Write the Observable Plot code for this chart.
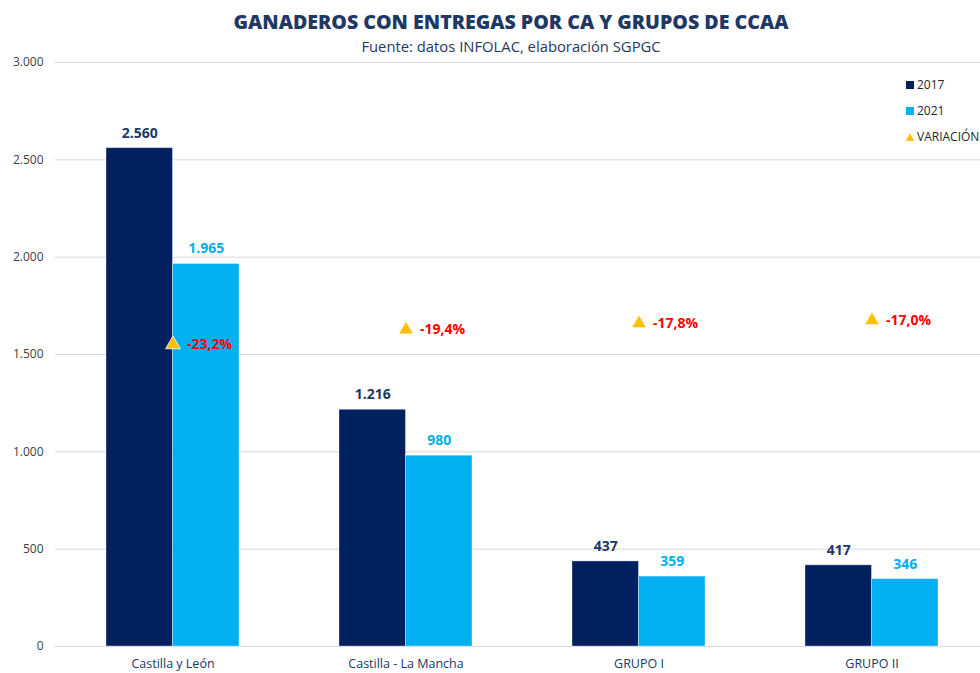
<!DOCTYPE html>
<html>
<head>
<meta charset="utf-8">
<script src="https://cdn.jsdelivr.net/npm/d3@7"></script>
<script src="https://cdn.jsdelivr.net/npm/@observablehq/plot@0.6"></script>
<style>
  html, body { margin: 0; padding: 0; background: #fff; overflow: hidden; }
  #wrap { position: relative; width: 980px; height: 673px; overflow: hidden; }
  #header { height: 56px; text-align: center; padding-left: 42px; box-sizing: border-box; }
  #title { font-family: "Open Sans", sans-serif; font-weight: 800; font-size: 19.6px; color: #1F3864; line-height: 24px; padding-top: 10px; }
  #subtitle { font-family: "Open Sans", sans-serif; font-size: 14.8px; color: #1F3864; line-height: 18px; margin-top: 3px; }
  #chart svg { max-width: none !important; display: block; }
  #legend { position: absolute; left: 906px; top: 76px; font-family: "Open Sans", sans-serif; font-size: 12px; color: #262626; white-space: nowrap; }
  .li { position: relative; height: 26px; }
  .sw { position: absolute; left: 0; top: 5px; width: 8px; height: 8px; }
  .tri { position: absolute; left: 0; top: 5px; width: 0; height: 0; border-left: 4px solid transparent; border-right: 4px solid transparent; border-bottom: 8px solid #FFC000; }
  .lt { position: absolute; left: 11px; top: 0; line-height: 17px; }
</style>
</head>
<body>
<div id="wrap">
  <div id="header">
    <div id="title">GANADEROS CON ENTREGAS POR CA Y GRUPOS DE CCAA</div>
    <div id="subtitle">Fuente: datos INFOLAC, elaboración SGPGC</div>
  </div>
  <div id="chart"></div>
  <div id="legend"></div>
</div>
<script>
// ---- data ----
const groups = ["Castilla y León", "Castilla - La Mancha", "GRUPO I", "GRUPO II"];
const v2017 = [2560, 1216, 437, 417];
const v2021 = [1965, 980, 359, 346];
const variacion = [-23.2, -19.4, -17.8, -17.0];   // %
const yTicks = [0, 500, 1000, 1500, 2000, 2500, 3000];
const seriesNames = ["2017", "2021", "VARIACIÓN"];

// ---- styles / layout ----
const C2017 = "#002060", C2021 = "#00B0F0", CTRI = "#FFC000", CRED = "#FF0000";
const W = 989, H = 617, mL = 55, mR = 0, mT = 6, mB = 27;
const padInner = 0.43, padOuter = 0.215;
const step = (W - mL - mR) / groups.length;
const bw = step * (1 - padInner);

// secondary (hidden) axis for the variation: -100% .. +50%  ->  0 .. 3000
const secondary = d3.scaleLinear().domain([-100, 50]).range([0, 3000]);

const rows = groups.map((g, i) => ({
  group: g, a: v2017[i], b: v2021[i], varPct: variacion[i], varY: secondary(variacion[i])
}));

const fmtNum = d => d3.format(",")(d).replace(/,/g, ".");
const fmtPct = d => d3.format(".1f")(d).replace("\u2212", "-").replace(".", ",") + "%";

const font = "'Open Sans', sans-serif";

const chart = Plot.plot({
  width: W, height: H,
  marginLeft: mL, marginRight: mR, marginTop: mT, marginBottom: mB,
  style: { fontFamily: font, background: "transparent", overflow: "visible", maxWidth: "none" },
  x: { domain: groups, paddingInner: padInner, paddingOuter: padOuter, axis: null },
  y: { domain: [0, 3000], axis: null },
  marks: [
    Plot.ruleY(yTicks, { stroke: "#D9D9D9", strokeWidth: 1 }),
    Plot.axisY(yTicks, { tickSize: 0, tickPadding: 12, tickFormat: fmtNum, fill: "#404040", fontSize: 12, label: null }),
    Plot.axisX({ tickSize: 0, tickPadding: 13, fill: "#203864", fontSize: 12.5, label: null }),
    Plot.barY(rows, { x: "group", y: "a", fill: C2017, insetRight: bw / 2, stroke: "#ffffff", strokeOpacity: 0.35, strokeWidth: 1 }),
    Plot.barY(rows, { x: "group", y: "b", fill: C2021, insetLeft: bw / 2, stroke: "#ffffff", strokeOpacity: 0.35, strokeWidth: 1 }),
    Plot.text(rows, { x: "group", y: "a", text: d => fmtNum(d.a), dx: -bw / 4, dy: -15, fill: "#203864", fontWeight: "bold", fontSize: 14 }),
    Plot.text(rows, { x: "group", y: "b", text: d => fmtNum(d.b), dx: bw / 4, dy: -15, fill: C2021, fontWeight: "bold", fontSize: 14 }),
    Plot.dot(rows, { x: "group", y: "varY", symbol: "triangle", r: 5.5, fill: CTRI, stroke: "#ffffff", strokeWidth: 0.8, dy: -3 }),
    Plot.text(rows, { x: "group", y: "varY", text: d => fmtPct(d.varPct), dx: 14, dy: -3, textAnchor: "start", fill: CRED, fontWeight: "bold", fontSize: 14 })
  ]
});
document.getElementById("chart").appendChild(chart);

// ---- legend ----
const legendColors = [C2017, C2021, null];
const leg = document.getElementById("legend");
seriesNames.forEach((name, i) => {
  const li = document.createElement("div");
  li.className = "li";
  const sw = document.createElement("div");
  if (legendColors[i]) { sw.className = "sw"; sw.style.background = legendColors[i]; }
  else { sw.className = "tri"; }
  const t = document.createElement("div");
  t.className = "lt";
  t.textContent = name;
  li.appendChild(sw); li.appendChild(t);
  leg.appendChild(li);
});
</script>
</body>
</html>
